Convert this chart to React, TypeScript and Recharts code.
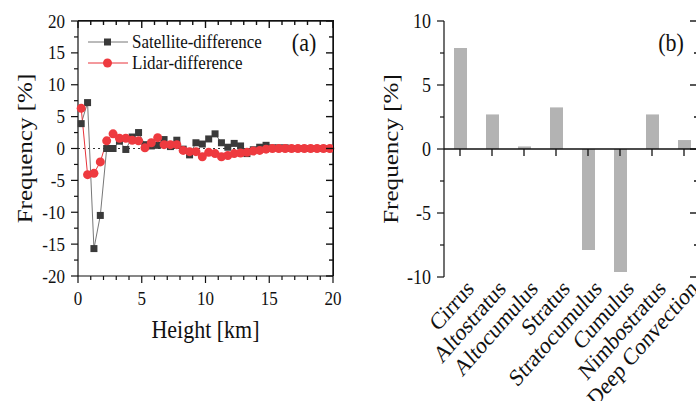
import React from 'react';
import { LineChart, Line, BarChart, Bar, XAxis, YAxis, ReferenceLine } from 'recharts';

// panel (a): frequency difference vs height
const heights = [
  0.25, 0.75, 1.25, 1.75, 2.25, 2.75, 3.25, 3.75, 4.25, 4.75,
  5.25, 5.75, 6.25, 6.75, 7.25, 7.75, 8.25, 8.75, 9.25, 9.75,
  10.25, 10.75, 11.25, 11.75, 12.25, 12.75, 13.25, 13.75, 14.25, 14.75,
  15.25, 15.75, 16.25, 16.75, 17.25, 17.75, 18.25, 18.75, 19.25, 19.75,
];
const satelliteDiff = [
  3.9, 7.2, -15.7, -10.5, 0, 0, 1.15, -0.15, 1.8, 2.5,
  0.6, 0.4, 0.5, 1.4, 0.3, 1.3, -0.1, -1.0, 0.9, 0.7,
  1.5, 2.3, 0.9, 0.2, 0.8, 0.4, -0.8, -0.2, 0.2, 0.5,
  0.1, 0.1, 0.1, 0, 0, 0, 0, 0, 0, 0,
];
const lidarDiff = [
  6.3, -4.1, -3.9, -2.1, 1.2, 2.3, 1.6, 1.6, 1.3, 1.2,
  0.1, 0.9, 1.7, 0.6, 0.6, 0.6, -0.3, -0.5, -0.5, -1.3,
  -0.6, -0.8, -1.3, -1.1, -0.8, -0.7, -0.6, -0.4, -0.3, -0.1,
  0, 0, 0, 0, 0, 0, 0, 0, 0, 0,
];
const seriesNames = ['Satellite-difference', 'Lidar-difference'];
const heightTicks = [0, 1, 2, 3, 4, 5, 6, 7, 8, 9, 10, 11, 12, 13, 14, 15, 16, 17, 18, 19, 20];
const heightMajor = [0, 5, 10, 15, 20];
const freqTicksA = [-20, -17.5, -15, -12.5, -10, -7.5, -5, -2.5, 0, 2.5, 5, 7.5, 10, 12.5, 15, 17.5, 20];
const freqMajorA = [-20, -15, -10, -5, 0, 5, 10, 15, 20];

// panel (b): per cloud type
const cloudTypes = ['Cirrus', 'Altostratus', 'Altocumulus', 'Stratus', 'Stratocumulus', 'Cumulus', 'Nimbostratus', 'Deep Convection'];
const cloudDiff = [7.9, 2.7, 0.2, 3.25, -7.9, -9.6, 2.7, 0.7];
const freqTicksB = [-10, -7.5, -5, -2.5, 0, 2.5, 5, 7.5, 10];
const freqMajorB = [-10, -5, 0, 5, 10];

const profileRows = heights.map((h, i) => ({ h, sat: satelliteDiff[i], lidar: lidarDiff[i] }));
const cloudRows = cloudTypes.map((name, i) => ({ name, value: cloudDiff[i] }));

const FONT = '"Liberation Serif", "Times New Roman", serif';
const SY = 1.14; // the reference is slightly stretched vertically
const INK = '#111';
const SAT_LINE = '#777';
const SAT_MARK = '#3a3a3a';
const LID_LINE = '#e8333a';
const LID_MARK = '#ee3a3f';

function T({ x, y, size, anchor = 'middle', rotate = 0, children }: any) {
  const tr = `translate(${x},${y}) scale(1,${SY})` + (rotate ? ` rotate(${rotate})` : '');
  return (
    <text transform={tr} fontFamily={FONT} fontSize={size} textAnchor={anchor} fill={INK}>
      {children}
    </text>
  );
}

// layout of the two plot areas
const A_W = 345;
const A_MARGIN = { top: 21, right: 12, bottom: 95, left: 0 };
const A_YAXIS_W = 78;
const A_XAXIS_H = 30;
const A_PLOT_W = A_W - A_MARGIN.left - A_MARGIN.right - A_YAXIS_W;
const A_PLOT_H = 401 - A_MARGIN.top - A_MARGIN.bottom - A_XAXIS_H;

const B_W = 340;
const B_TOP = 21;
const B_BOTTOM = 277;
const B_MARGIN = { top: B_TOP, right: 10, bottom: 0, left: 0 };
const B_YAXIS_W = 74;
const B_PLOT_W = B_W - B_MARGIN.left - B_MARGIN.right - B_YAXIS_W;
const zeroY = B_TOP + (B_BOTTOM - B_TOP) * (10 / 20);

// tick renderers (tickSize/tickMargin are 0 so x,y sit on the axis line);
// they also draw the inward ticks on the opposite side of the frame
const leftTick = (major: number[], size: number, mirrorW: number, rBig: number, rSmall: number) => (p: any) => {
  const big = major.includes(p.payload.value);
  const xr = p.x + mirrorW;
  return (
    <g>
      <line x1={p.x} x2={p.x - (big ? 7 : 4)} y1={p.y} y2={p.y} stroke={INK} strokeWidth={1.2} />
      <line x1={xr} x2={xr - (big ? rBig : rSmall)} y1={p.y} y2={p.y} stroke={INK} strokeWidth={1.4} />
      {big && <T x={p.x - 13} y={p.y + 6.5} size={size} anchor="end">{p.payload.value}</T>}
    </g>
  );
};
const bottomTick = (p: any) => {
  const big = heightMajor.includes(p.payload.value);
  const yt = p.y - A_PLOT_H;
  return (
    <g>
      <line x1={p.x} x2={p.x} y1={p.y} y2={p.y + (big ? 7 : 4)} stroke={INK} strokeWidth={1.2} />
      <line x1={p.x} x2={p.x} y1={yt} y2={yt + (big ? 7 : 4)} stroke={INK} strokeWidth={1.4} />
      {big && <T x={p.x} y={p.y + 29} size={17}>{p.payload.value}</T>}
    </g>
  );
};
const cloudTick = (p: any) => (
  <g>
    <line x1={p.x} x2={p.x} y1={zeroY} y2={zeroY + 7} stroke={INK} strokeWidth={1.3} />
    <T x={p.x + 15} y={p.y + 13} size={21} anchor="end" rotate={-45}>{p.payload.value}</T>
  </g>
);

const SquareDot = (p: any) => (
  <rect key={`sq${p.index}`} x={p.cx - 3.5} y={p.cy - 3.5} width={7} height={7} fill={SAT_MARK} />
);

// y label + in-plot legend + panel tag + frame, drawn from the left axis label slot
const panelALabel = (lp: any) => {
  const vb = lp.viewBox;
  const x0 = vb.x + vb.width;
  const lx = x0 + 10;
  return (
    <g>
      <T x={32} y={vb.y + vb.height / 2} size={22} rotate={-90}>Frequency [%]</T>
      {seriesNames.map((name, i) => {
        const y = vb.y + 21 + i * 21;
        const sq = i === 0;
        return (
          <g key={name}>
            <line x1={lx} x2={lx + 40} y1={y} y2={y} stroke={sq ? SAT_LINE : LID_LINE} strokeWidth={1} />
            {sq ? <rect x={lx + 16} y={y - 3.5} width={7} height={7} fill={SAT_MARK} /> : <circle cx={lx + 19.5} cy={y} r={4.5} fill={LID_MARK} />}
            <T x={lx + 44} y={y + 6} size={17} anchor="start">{name}</T>
          </g>
        );
      })}
      <T x={x0 + A_PLOT_W - 29} y={51} size={22}>(a)</T>
      <rect x={x0} y={vb.y - 0.7} width={A_PLOT_W} height={1.4} fill={INK} />
      <rect x={x0 + A_PLOT_W - 0.7} y={vb.y} width={1.4} height={vb.height} fill={INK} />
    </g>
  );
};

export default function App() {
  return (
    <div style={{ position: 'absolute', left: 0, top: 0, width: 696, height: 401, background: '#fff', overflow: 'hidden' }}>
      <div style={{ position: 'absolute', left: 0, top: 0, width: A_W, height: 401 }}>
        <LineChart width={A_W} height={401} data={profileRows} margin={A_MARGIN}>
          <XAxis
            dataKey="h" type="number" domain={[0, 20]} ticks={heightTicks} interval={0}
            height={A_XAXIS_H} tickSize={0} tickMargin={0} tick={bottomTick}
            axisLine={{ stroke: INK, strokeWidth: 1.2 }}
            label={(lp: any) => <T x={lp.viewBox.x + lp.viewBox.width / 2} y={338} size={22}>Height [km]</T>}
          />
          <YAxis
            type="number" domain={[-20, 20]} ticks={freqTicksA} interval={0}
            width={A_YAXIS_W} tickSize={0} tickMargin={0} tick={leftTick(freqMajorA, 17, A_PLOT_W, 7, 4)}
            axisLine={{ stroke: INK, strokeWidth: 1.2 }}
            label={panelALabel}
          />
          <ReferenceLine y={0} stroke="#333" strokeDasharray="2 3" strokeWidth={1} />
          <Line
            dataKey="sat" name={seriesNames[0]} type="linear" stroke={SAT_LINE} strokeWidth={1}
            dot={SquareDot} activeDot={false} isAnimationActive={false}
          />
          <Line
            dataKey="lidar" name={seriesNames[1]} type="linear" stroke={LID_LINE} strokeWidth={1}
            dot={{ r: 4.5, fill: LID_MARK, stroke: 'none' }} activeDot={false} isAnimationActive={false}
          />
        </LineChart>
        <div
          style={{
            position: 'absolute', left: A_MARGIN.left + A_YAXIS_W, top: A_MARGIN.top - 1,
            width: A_PLOT_W, height: A_PLOT_H, borderTop: `1px solid ${INK}`, borderRight: `1px solid ${INK}`,
            pointerEvents: 'none',
          }}
        />
      </div>

      <div style={{ position: 'absolute', left: 370, top: 0, width: 326, height: 401, overflow: 'hidden' }}>
        <BarChart width={B_W} height={401} data={cloudRows} margin={B_MARGIN}>
          <XAxis
            dataKey="name" type="category" interval={0} height={401 - B_BOTTOM}
            tickSize={0} tickMargin={0} tickLine={false} axisLine={false} tick={cloudTick}
          />
          <YAxis
            type="number" domain={[-10, 10]} ticks={freqTicksB} interval={0}
            width={B_YAXIS_W} tickSize={0} tickMargin={0} tick={leftTick(freqMajorB, 18, B_PLOT_W, 10, 6)}
            axisLine={{ stroke: INK, strokeWidth: 1.2 }}
            label={(lp: any) => (
              <g>
                <T x={28} y={lp.viewBox.y + lp.viewBox.height / 2} size={22} rotate={-90}>Frequency [%]</T>
                <T x={lp.viewBox.x + lp.viewBox.width + B_PLOT_W - 29} y={51} size={22}>(b)</T>
              </g>
            )}
          />
          <Bar dataKey="value" fill="#b3b3b3" barSize={13} isAnimationActive={false} />
          <ReferenceLine y={0} stroke={INK} strokeWidth={1.3} />
        </BarChart>
      </div>
    </div>
  );
}
